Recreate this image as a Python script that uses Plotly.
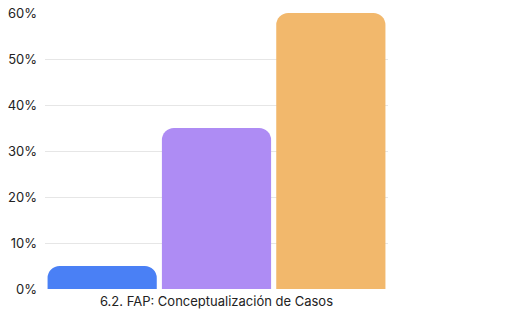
import plotly.graph_objects as go

category = ["6.2. FAP: Conceptualización de Casos"]
series_names = ["A", "B", "C"]
series_values = [[5], [35], [60]]
colors = ["#4A80F5", "#AE8CF4", "#F2B86C"]
y_ticks = [0, 10, 20, 30, 40, 50, 60]
y_tick_labels = ["0%", "10%", "20%", "30%", "40%", "50%", "60%"]

fig = go.Figure()
for name, vals, col in zip(series_names, series_values, colors):
    fig.add_trace(go.Bar(x=category, y=vals, name=name, marker=dict(color=col, line=dict(width=0))))

fig.update_layout(
    width=508, height=319,
    margin=dict(l=45, r=120, t=13, b=30, autoexpand=False),
    barmode="group", bargap=0, bargroupgap=0.045,
    barcornerradius=12,
    showlegend=False,
    plot_bgcolor="white", paper_bgcolor="white",
    font=dict(family="Inter, Roboto, sans-serif", size=13, color="#222"),
)
fig.update_yaxes(range=[0, 60], tickmode="array", tickvals=y_ticks, ticktext=y_tick_labels,
                 gridcolor="#e6e6e6", zeroline=False, showline=False, ticks="",
                 automargin=False, ticklabelstandoff=7)
fig.update_xaxes(showline=False, ticks="", showgrid=False, automargin=False,
                 ticklabelstandoff=3)
fig.write_html("out.html")
